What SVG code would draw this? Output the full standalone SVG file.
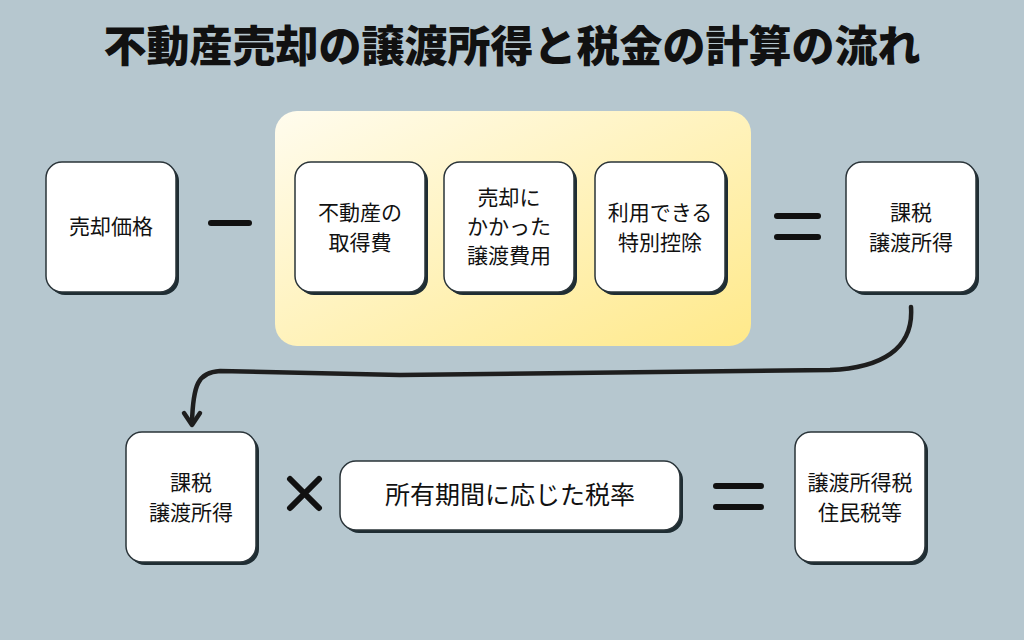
<svg xmlns="http://www.w3.org/2000/svg" width="1024" height="640" viewBox="0 0 1024 640">
<defs>
<linearGradient id="yg" x1="0" y1="0" x2="1" y2="1">
<stop offset="0" stop-color="#fffcee"/><stop offset="1" stop-color="#ffe98a"/>
</linearGradient>
<style>
.sh{fill:#1f2d33}
.bx{fill:#fff;stroke:#2a3439;stroke-width:1.5}
.t{font-family:"Noto Sans CJK JP","Noto Sans",sans-serif;font-size:21px;fill:#111;text-anchor:middle}
.op{stroke:#111;stroke-width:6;stroke-linecap:round;fill:none}
</style>
</defs>
<rect width="1024" height="640" fill="#b6c7cf"/>
<text x="512" y="62" font-family="'Noto Sans CJK JP',sans-serif" font-weight="900" font-size="43" text-anchor="middle" fill="#111">不動産売却の譲渡所得と税金の計算の流れ</text>
<rect x="275" y="111" width="476" height="235" rx="22" fill="url(#yg)"/>
<g id="n1"><rect class="sh" x="49" y="165" width="130" height="130" rx="16"/><rect class="bx" x="46" y="162" width="130" height="130" rx="16"/><text class="t" x="111" y="234">売却価格</text></g>
<g id="n2"><rect class="sh" x="298" y="165" width="130" height="130" rx="16"/><rect class="bx" x="295" y="162" width="130" height="130" rx="16"/><text class="t" x="360" y="220">不動産の</text><text class="t" x="360" y="250">取得費</text></g>
<g id="n3"><rect class="sh" x="447" y="165" width="130" height="130" rx="16"/><rect class="bx" x="444" y="162" width="130" height="130" rx="16"/><text class="t" x="509" y="205">売却に</text><text class="t" x="509" y="234">かかった</text><text class="t" x="509" y="263">譲渡費用</text></g>
<g id="n4"><rect class="sh" x="598" y="165" width="130" height="130" rx="16"/><rect class="bx" x="595" y="162" width="130" height="130" rx="16"/><text class="t" x="660" y="220">利用できる</text><text class="t" x="660" y="250">特別控除</text></g>
<g id="n5"><rect class="sh" x="849" y="165" width="130" height="130" rx="16"/><rect class="bx" x="846" y="162" width="130" height="130" rx="16"/><text class="t" x="911" y="220">課税</text><text class="t" x="911" y="250">譲渡所得</text></g>
<g id="n6"><rect class="sh" x="129" y="435" width="130" height="130" rx="16"/><rect class="bx" x="126" y="432" width="130" height="130" rx="16"/><text class="t" x="191" y="490">課税</text><text class="t" x="191" y="520">譲渡所得</text></g>
<g id="n7"><rect class="sh" x="343" y="464" width="340" height="69" rx="16"/><rect class="bx" x="340" y="461" width="340" height="69" rx="16"/><text class="t" x="510" y="504" style="font-size:25px">所有期間に応じた税率</text></g>
<g id="n8"><rect class="sh" x="798" y="435" width="130" height="130" rx="16"/><rect class="bx" x="795" y="432" width="130" height="130" rx="16"/><text class="t" x="860" y="490">譲渡所得税</text><text class="t" x="860" y="520">住民税等</text></g>
<g id="ops">
<line class="op" x1="211" y1="223" x2="249" y2="223"/>
<line class="op" x1="777" y1="216" x2="818" y2="216"/><line class="op" x1="777" y1="237" x2="818" y2="237"/>
<path class="op" d="M290,479 L319,508 M319,479 L290,508" stroke-width="5"/>
<line class="op" x1="716" y1="486" x2="761" y2="486"/><line class="op" x1="716" y1="507" x2="761" y2="507"/>
</g>
<g id="connectors" fill="none" stroke="#1e1e1e" stroke-width="4.5" stroke-linecap="round" stroke-linejoin="round">
<path d="M911,307 C914,350 880,368 830,370 L400,375 L220,371 C198,372 193,385 192,423"/>
<path d="M184,413 L192,425 L200,413"/>
</g>
</svg>
